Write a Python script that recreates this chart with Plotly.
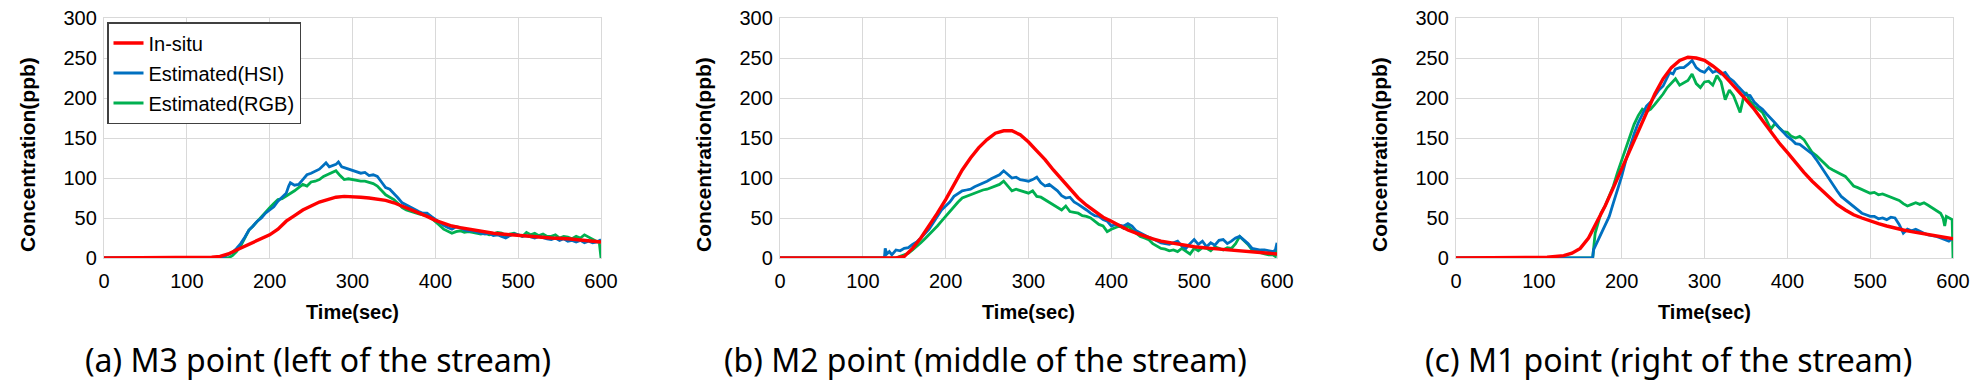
import plotly.graph_objects as go

# ---------------- data ----------------
# Panel (a) M3 point
a_insitu_t = [0,120,130,140,150,160,170,180,190,200,210,220,230,240,250,260,270,280,290,300,310,320,330,340,350,360,370,380,390,400,410,420,430,440,450,460,470,480,490,500,520,540,560,580,600]
a_insitu_v = [0,0,1,2,5,10,15,19,24,29,36,46,53,60,65,70,73,76,77,77,76,75,74,72,69,65,61,57,52,47,43,40,38,36,34,32,31,30,29,28,27,25,24,22,20]
a_hsi_t = [0,140,145,150,155,160,165,170,175,180,185,190,195,200,205,210,215,220,223,225,230,235,240,245,250,255,260,265,268,272,275,280,283,287,290,295,300,305,310,315,320,325,330,335,340,345,350,355,360,365,370,375,380,385,390,395,400,405,410,415,420,425,430,435,440,445,450,455,460,465,470,475,480,485,490,495,500,505,510,515,520,525,530,535,540,545,550,555,560,565,570,575,580,585,590,595,600]
a_hsi_v = [0,0,2,4,7,12,18,26,35,40,46,50,56,60,64,71,76,81,90,94,91,92,98,104,106,108,111,116,119,114,115,117,120,114,113,111,110,108,106,107,103,104,102,95,88,86,81,75,69,66,63,61,58,56,56,52,48,44,41,38,36,39,38,35,34,34,32,31,30,31,28,29,27,25,28,30,29,27,28,26,25,27,25,24,23,25,22,24,21,22,20,22,19,21,19,20,23]
a_rgb_t = [0,150,155,160,165,170,175,180,185,190,195,200,205,210,215,220,225,230,235,240,245,250,255,260,265,270,275,280,285,290,295,300,305,310,315,320,325,330,335,340,345,350,355,360,365,370,375,380,385,390,395,400,405,410,415,420,425,430,435,440,445,450,455,460,465,470,475,480,485,490,495,500,505,510,515,520,525,530,535,540,545,550,555,560,565,570,575,580,585,590,595,598,600]
a_rgb_v = [0,0,3,8,15,25,35,40,46,52,58,63,68,73,74,77,80,84,88,92,90,95,96,98,102,104,106,109,103,98,99,98,97,96,96,94,93,90,85,79,76,73,68,63,60,58,56,55,54,53,50,46,41,36,33,31,33,34,32,33,32,31,30,31,29,30,32,31,28,30,31,29,27,32,29,31,28,30,27,27,29,25,27,26,24,27,25,29,26,23,21,19,0]

# Panel (b) M2 point
b_insitu_t = [0,140,150,160,170,180,190,200,210,220,230,240,250,260,270,280,290,300,310,320,330,340,350,360,370,380,390,400,410,420,430,440,450,460,470,480,490,500,520,540,560,580,600]
b_insitu_v = [0,0,2,12,25,40,56,73,92,110,125,138,148,156,159,159,154,145,134,123,110,98,86,75,66,58,51,46,40,35,31,27,24,21,19,17,15,14,12,10,8,6,5]
b_hsi_t = [0,126,127,129,132,135,140,145,150,155,160,165,170,175,180,185,190,195,200,205,210,215,220,225,230,235,240,245,250,255,260,265,270,275,280,285,290,295,300,305,310,315,320,325,330,335,340,345,350,355,360,365,370,375,380,385,390,395,400,405,410,415,420,425,430,435,440,445,450,455,460,465,470,475,480,485,490,495,500,505,510,515,520,525,530,535,540,545,550,555,560,565,570,575,580,585,590,595,598,600]
b_hsi_v = [0,0,12,5,8,4,10,9,12,13,17,20,25,30,36,44,52,60,65,70,77,80,84,85,86,89,91,94,96,99,102,104,109,104,100,101,98,97,96,98,101,94,90,92,88,84,78,75,76,70,67,64,60,56,53,52,48,46,40,42,41,40,43,40,34,31,29,26,24,21,19,18,17,19,21,15,12,18,23,17,21,14,19,16,22,23,18,21,25,27,23,18,12,11,10,10,9,8,10,19]
b_rgb_t = [0,140,145,150,155,160,165,170,175,180,185,190,195,200,205,210,215,220,225,230,235,240,245,250,255,260,265,270,275,280,285,290,295,300,305,310,315,320,325,330,335,340,345,350,355,360,365,370,375,380,385,390,395,400,405,410,415,420,425,430,435,440,445,450,455,460,465,470,475,480,485,490,495,500,505,510,515,520,525,530,535,540,545,550,555,560,565,570,575,580,585,590,595,598,600]
b_rgb_v = [0,0,2,4,6,10,14,19,24,29,34,40,46,52,58,65,70,75,77,79,81,84,85,86,88,90,92,96,90,84,86,84,82,81,84,77,76,73,70,66,63,60,65,58,57,56,53,52,50,46,42,40,33,36,38,40,37,40,35,31,27,25,23,18,15,12,11,9,10,8,12,8,5,12,9,13,12,9,14,12,10,13,12,18,27,22,17,10,8,6,5,4,4,2,15]

# Panel (c) M1 point
c_insitu_t = [0,100,110,120,130,140,150,160,170,180,190,200,210,220,230,240,250,260,270,280,290,300,310,320,330,340,350,360,370,380,390,400,410,420,430,440,450,460,470,480,490,500,510,520,530,540,550,560,570,580,590,600]
c_insitu_v = [0,0,1,2,3,6,12,25,44,65,88,111,136,159,182,205,224,238,247,251,250,247,240,232,221,210,198,186,172,158,144,132,119,107,96,86,76,67,60,54,50,46,43,40,37,35,33,31,29,27,25,24]
c_hsi_t = [0,165,166,170,175,180,185,190,195,200,205,210,215,220,225,230,235,240,245,250,255,258,262,265,270,275,280,285,290,295,300,305,310,315,320,325,330,335,340,345,350,355,360,365,370,375,380,385,390,395,400,405,410,415,420,425,430,435,440,445,450,455,460,465,470,475,480,485,490,495,500,505,510,515,520,525,530,535,540,545,550,555,560,565,570,575,580,585,590,595,600]
c_hsi_v = [0,0,10,19,28,40,52,69,85,102,122,140,155,169,180,190,195,203,210,215,226,232,230,236,238,238,242,247,238,234,232,238,232,234,230,232,225,221,215,209,204,203,195,190,186,180,175,169,163,157,152,148,143,142,138,134,130,123,115,107,100,92,84,77,73,69,64,60,56,54,52,52,49,50,48,51,50,42,31,36,34,36,33,31,29,28,27,25,23,21,25]
c_rgb_t = [0,165,168,172,175,180,185,190,195,200,205,210,215,220,225,230,235,240,245,250,255,260,265,270,275,280,285,290,295,300,305,310,315,320,325,330,335,340,343,347,350,355,360,365,370,375,380,385,390,395,400,405,410,415,420,425,430,435,440,445,450,455,460,465,470,475,480,485,490,495,500,505,510,515,520,525,530,535,540,545,550,555,560,565,570,575,580,585,588,590,592,595,599,600]
c_rgb_v = [0,0,31,45,56,65,77,90,107,122,138,152,167,178,186,183,186,192,198,205,213,218,224,216,219,222,230,218,213,220,221,216,228,220,198,210,203,190,182,200,207,196,190,186,182,172,161,168,163,158,157,152,150,152,148,140,132,128,123,118,113,110,107,105,102,96,90,88,86,83,81,82,79,80,78,76,73,72,68,65,67,69,67,69,66,63,60,56,50,40,52,50,48,0]

series_names = ["In-situ", "Estimated(HSI)", "Estimated(RGB)"]
captions = ["(a) M3 point (left of the stream)",
            "(b) M2 point (middle of the stream)",
            "(c) M1 point (right of the stream)"]
x_ticks = [0, 100, 200, 300, 400, 500, 600]
y_ticks = [0, 50, 100, 150, 200, 250, 300]

panels = [
    [(a_insitu_t, a_insitu_v), (a_hsi_t, a_hsi_v), (a_rgb_t, a_rgb_v)],
    [(b_insitu_t, b_insitu_v), (b_hsi_t, b_hsi_v), (b_rgb_t, b_rgb_v)],
    [(c_insitu_t, c_insitu_v), (c_hsi_t, c_hsi_v), (c_rgb_t, c_rgb_v)],
]

# ---------------- style ----------------
PAGE_W, PAGE_H = 1979, 391
BODY = 8                      # default page body margin
W, H = PAGE_W - 2 * BODY, PAGE_H - 2 * BODY


def px(X):  # page x -> paper fraction
    return (X - BODY) / W


def py(Y):  # page y -> paper fraction
    return 1 - (Y - BODY) / H


colors = ["#FF0000", "#0070C0", "#00B050"]
widths = [3.4, 2.8, 2.8]
plot_left = [104, 780, 1456]
plot_w = 497
plot_top, plot_bot = 18, 258
caption_x = [318, 985, 1668]
ARIAL = "Arial, Liberation Sans, sans-serif"
TICK_FONT = dict(family=ARIAL, size=20, color="#000000")
TITLE_FONT = dict(family=ARIAL, size=20, color="#000000")
YTITLE_FONT = dict(family=ARIAL, size=21, color="#000000")
GRID = "#D9D9D9"

fig = go.Figure()
draw_order = [2, 1, 0]  # green under blue under red
for p, series in enumerate(panels):
    xa = "x" if p == 0 else f"x{p+1}"
    ya = "y" if p == 0 else f"y{p+1}"
    for s in draw_order:
        t, v = series[s]
        fig.add_trace(go.Scatter(
            x=t, y=v, mode="lines", name=series_names[s],
            line=dict(color=colors[s], width=widths[s]),
            xaxis=xa, yaxis=ya,
            showlegend=(p == 0), legendgroup=series_names[s],
            legendrank=s + 1,
        ))

layout = dict(
    width=W, height=H,
    margin=dict(l=0, r=0, t=0, b=0, autoexpand=False),
    paper_bgcolor="white", plot_bgcolor="white",
    showlegend=True,
    legend=dict(
        x=px(107), y=py(22), xanchor="left", yanchor="top",
        bgcolor="white", bordercolor="#404040", borderwidth=1.5,
        font=dict(family=ARIAL, size=20, color="#000000"),
        traceorder="grouped", tracegroupgap=1,
    ),
)
annotations = []
for p in range(3):
    sfx = "" if p == 0 else str(p + 1)
    layout["xaxis" + sfx] = dict(
        domain=[px(plot_left[p]), px(plot_left[p] + plot_w)], range=[0, 600], tickvals=x_ticks,
        showgrid=True, gridcolor=GRID, gridwidth=1.3,
        showline=True, linecolor=GRID, linewidth=1.3, mirror=True,
        zeroline=False, ticks="", tickfont=TICK_FONT,
        ticklabelstandoff=5, ticklabeloverflow="allow", automargin=False,
        anchor="y" + sfx,
    )
    layout["yaxis" + sfx] = dict(
        domain=[py(plot_bot), py(plot_top)], range=[0, 300], tickvals=y_ticks,
        showgrid=True, gridcolor=GRID, gridwidth=1.3,
        showline=True, linecolor=GRID, linewidth=1.3, mirror=True,
        zeroline=False, ticks="", tickfont=TICK_FONT,
        ticklabelstandoff=2, ticklabeloverflow="allow", automargin=False,
        anchor="x" + sfx,
    )
    annotations.append(dict(
        text="<b>Time(sec)</b>", xref="paper", yref="paper",
        x=px(plot_left[p] + plot_w / 2), y=py(312),
        xanchor="center", yanchor="middle", showarrow=False, font=TITLE_FONT,
    ))
    annotations.append(dict(
        text="<b>Concentration(ppb)</b>", xref="paper", yref="paper",
        x=px(plot_left[p] - 77), y=py(155), textangle=-90,
        xanchor="center", yanchor="middle", showarrow=False, font=YTITLE_FONT,
    ))
    annotations.append(dict(
        text=captions[p], xref="paper", yref="paper",
        x=px(caption_x[p]), y=0,
        xanchor="center", yanchor="bottom", showarrow=False,
        font=dict(family="Noto Sans, sans-serif", size=32, color="#000000"),
    ))
layout["annotations"] = annotations
fig.update_layout(**layout)
fig.write_html("out.html")
